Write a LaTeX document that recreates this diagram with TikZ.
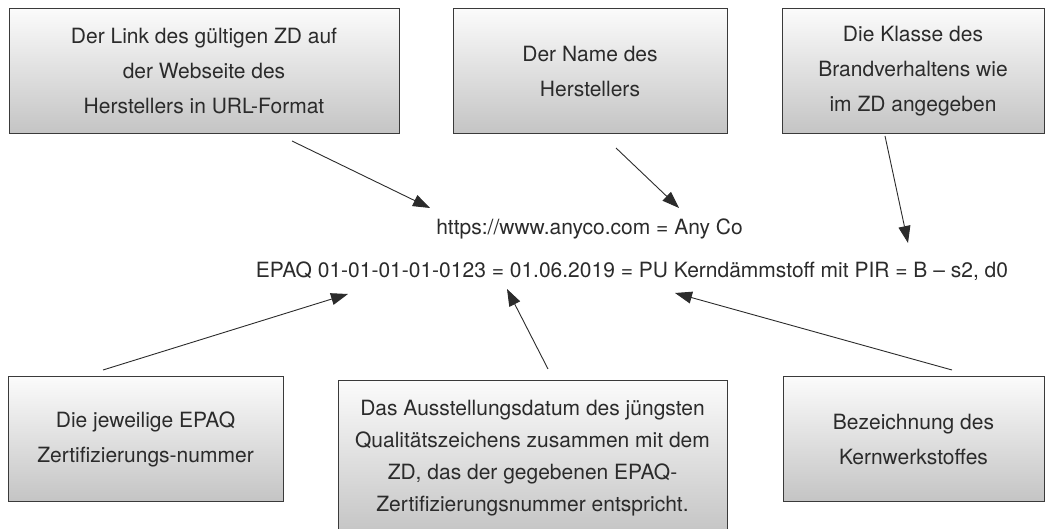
\documentclass[tikz,border=0pt]{standalone}
\usepackage{fontspec}
\setmainfont{TeX Gyre Heros}
\usetikzlibrary{arrows.meta}
\definecolor{txt}{HTML}{2B2B2B}
\definecolor{edge}{HTML}{3A3A3A}
\definecolor{boxtop}{HTML}{FBFBFB}
\definecolor{boxbot}{HTML}{C4C4C4}
\tikzset{
  infobox/.style={draw=edge, line width=1pt, top color=boxtop, bottom color=boxbot,
    inner sep=0pt, outer sep=0pt, align=center, text=txt,
    font=\fontsize{21}{35}\selectfont},
  codeline/.style={inner sep=0pt, anchor=base, text=txt, font=\fontsize{21}{25}\selectfont},
  pointer/.style={draw=txt, line width=0.9pt, -{Triangle[length=17pt,width=12pt]}}
}
\begin{document}
\begin{tikzpicture}[x=1pt,y=1pt]
\useasboundingbox (0,0) rectangle (1046,529);
\clip (0,0) rectangle (1046,529);
% top boxes
\node[infobox, minimum width=390pt, minimum height=125pt] (link) at (204,457.5)
  {Der Link des gültigen ZD auf\\der Webseite des\\Herstellers in URL-Format};
\node[infobox, minimum width=274pt, minimum height=125pt] (name) at (590,457.5)
  {Der Name des\\Herstellers};
\node[infobox, minimum width=262pt, minimum height=125pt] (klasse) at (913,457.5)
  {Die Klasse des\\Brandverhaltens wie\\im ZD angegeben};
% bottom boxes
\node[infobox, minimum width=275pt, minimum height=125pt] (nummer) at (145.5,89.5)
  {Die jeweilige EPAQ\\Zertifizierungs-nummer};
\node[infobox, minimum width=389pt, minimum height=154pt, font=\fontsize{21}{32}\selectfont] (datum) at (532.5,71)
  {Das Ausstellungsdatum des jüngsten\\Qualitätszeichens zusammen mit dem\\ZD, das der gegebenen EPAQ-\\Zertifizierungsnummer entspricht.};
\node[infobox, minimum width=261pt, minimum height=125pt] (kern) at (913.5,89.5)
  {Bezeichnung des\\Kernwerkstoffes};
% middle lines
\node[codeline] (url) at (589.5,294) {https://www.anyco.com = Any Co};
\node[codeline] (code) at (632,251) {EPAQ 01-01-01-01-0123 = 01.06.2019 = PU Kerndämmstoff mit PIR = B – s2, d0};
% arrow end points
\coordinate (s1) at (292,388); \coordinate (e1) at (430,321);
\coordinate (s2) at (616,381); \coordinate (e2) at (679,321);
\coordinate (s3) at (885,393); \coordinate (e3) at (908,286);
\coordinate (s4) at (103,159); \coordinate (e4) at (348,235);
\coordinate (s5) at (548,160); \coordinate (e5) at (507,240);
\coordinate (s6) at (952,159); \coordinate (e6) at (675,236);
\draw[pointer] (s1) -- (e1);
\draw[pointer] (s2) -- (e2);
\draw[pointer] (s3) -- (e3);
\draw[pointer] (s4) -- (e4);
\draw[pointer] (s5) -- (e5);
\draw[pointer] (s6) -- (e6);
\end{tikzpicture}
\end{document}
